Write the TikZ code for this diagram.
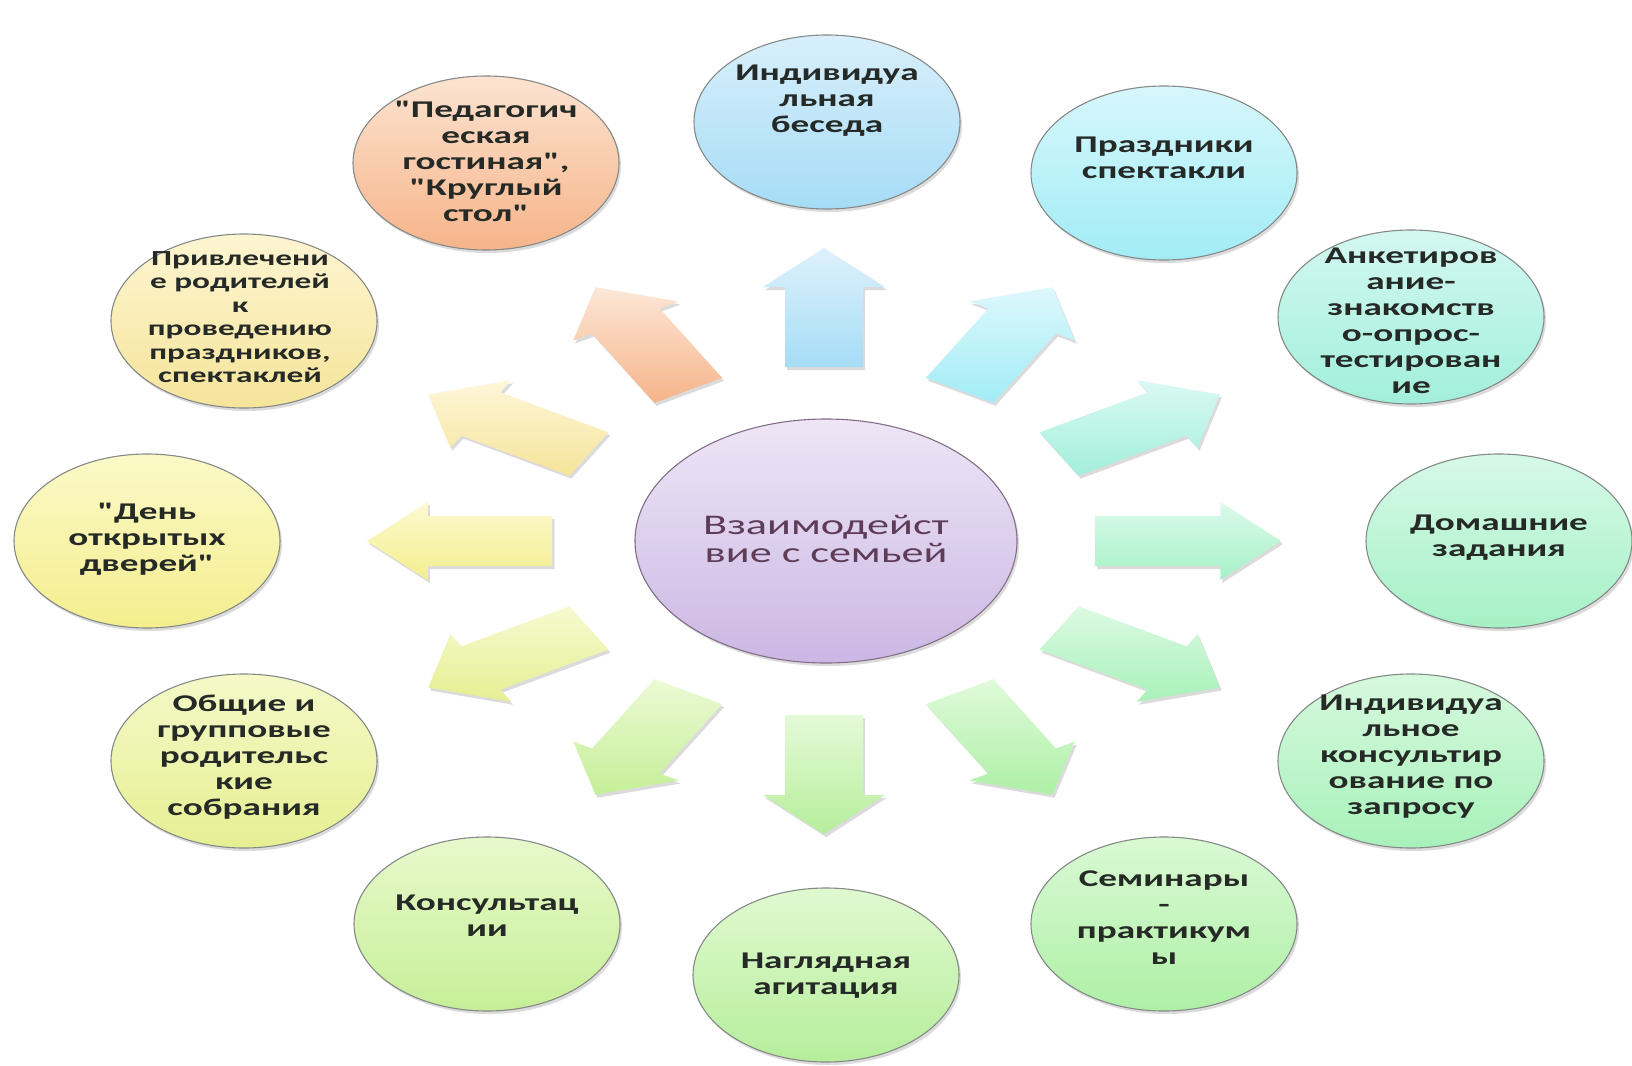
\documentclass[tikz,border=0pt]{standalone}
\usepackage{fontspec}
\setmainfont{Carlito}[FakeStretch=1.55,Ligatures=TeXOff]
\usetikzlibrary{shapes.geometric,shadows}
% bubble colours (top / bottom)
\definecolor{aT}{HTML}{FCE3D0}\definecolor{aB}{HTML}{F6B48A}
\definecolor{bT}{HTML}{D8EFFB}\definecolor{bB}{HTML}{A6DCF6}
\definecolor{cT}{HTML}{D6F7FB}\definecolor{cB}{HTML}{A2ECF6}
\definecolor{dT}{HTML}{D4F8F1}\definecolor{dB}{HTML}{A2EFDB}
\definecolor{eT}{HTML}{D6F9E8}\definecolor{eB}{HTML}{A6F1C6}
\definecolor{fT}{HTML}{D6F9DE}\definecolor{fB}{HTML}{A8F1BA}
\definecolor{gT}{HTML}{DAF9D4}\definecolor{gB}{HTML}{AEF0A6}
\definecolor{hT}{HTML}{E0F9D0}\definecolor{hB}{HTML}{B6EE9C}
\definecolor{iT}{HTML}{E8F9CC}\definecolor{iB}{HTML}{C6EF98}
\definecolor{jT}{HTML}{F4F9C8}\definecolor{jB}{HTML}{E6EF92}
\definecolor{kT}{HTML}{FBF9C8}\definecolor{kB}{HTML}{F4EE8E}
\definecolor{lT}{HTML}{FDF5D2}\definecolor{lB}{HTML}{F6E49A}
\definecolor{mT}{HTML}{EEE6F6}\definecolor{mB}{HTML}{CBB7E4}
\definecolor{txtc}{HTML}{262A26}
\definecolor{hubtxt}{HTML}{5E3C58}
\definecolor{rim}{HTML}{858A88}
\tikzset{
  bub/.style={ellipse, minimum width=266pt, minimum height=174pt, inner sep=0pt,
    draw=rim, line width=1.1pt,
    drop shadow={opacity=0.28, shadow xshift=2pt, shadow yshift=-3pt}},
  hub/.style={bub, minimum width=382pt, minimum height=244pt, draw=rim!80!violet},
  txt/.style={align=center, inner sep=0pt, text=txtc,
    font=\bfseries\fontsize{24}{26}\selectfont},
  smalltxt/.style={txt, font=\bfseries\fontsize{21.5}{23.5}\selectfont},
  hubtext/.style={align=center, inner sep=0pt, text=hubtxt,
    font=\fontsize{28.5}{28}\selectfont},
  blockarrow/.style={drop shadow={opacity=0.28, shadow xshift=2pt, shadow yshift=-3pt}},
}
% radial block arrow: #1 angle (math, ccw), #2 top colour, #3 bottom colour
\newcommand\radarrow[3]{%
  \pgfmathsetmacro\ca{cos(#1)}%
  \pgfmathsetmacro\sa{sin(#1)}%
  \coordinate (q1) at ({824+1.56*(174*\ca-25*\sa)},{541-(174*\sa+25*\ca)});
  \coordinate (q2) at ({824+1.56*(254*\ca-25*\sa)},{541-(254*\sa+25*\ca)});
  \coordinate (q3) at ({824+1.56*(254*\ca-39*\sa)},{541-(254*\sa+39*\ca)});
  \coordinate (q4) at ({824+1.56*(293*\ca)},{541-(293*\sa)});
  \coordinate (q5) at ({824+1.56*(254*\ca+39*\sa)},{541-(254*\sa-39*\ca)});
  \coordinate (q6) at ({824+1.56*(254*\ca+25*\sa)},{541-(254*\sa-25*\ca)});
  \coordinate (q7) at ({824+1.56*(174*\ca+25*\sa)},{541-(174*\sa-25*\ca)});
  \path[blockarrow, top color=#2, bottom color=#3]
    (q1) -- (q2) -- (q3) -- (q4) -- (q5) -- (q6) -- (q7) -- cycle;
}
\begin{document}
\begin{tikzpicture}[x=1pt,y=-1pt]
\fill[white] (0,0) rectangle (1632,1065);
\useasboundingbox (0,0) rectangle (1632,1065);

% arrows
\radarrow{90}{bT!85!white}{bB}
\radarrow{60}{cT!85!white}{cB}
\radarrow{30}{dT!85!white}{dB}
\radarrow{0}{eT!85!white}{eB}
\radarrow{-30}{fT!85!white}{fB}
\radarrow{-60}{gT!85!white}{gB}
\radarrow{-90}{hT!85!white}{hB}
\radarrow{-120}{iT!85!white}{iB}
\radarrow{-150}{jT!85!white}{jB}
\radarrow{180}{kT!85!white}{kB}
\radarrow{150}{lT!85!white}{lB}
\radarrow{120}{aT!85!white}{aB}

% hub
\node[hub, top color=mT, bottom color=mB] (m) at (826,541) {};
\node[hubtext] (mt) at (826,539) {Взаимодейст\\вие с семьей};

% bubbles
\node[bub, top color=aT, bottom color=aB] (a) at (486,163) {};
\node[txt] (at) at (486,161) {"Педагогич\\еская\\гостиная",\\"Круглый\\стол"};

\node[bub, top color=bT, bottom color=bB] (b) at (827,122) {};
\node[txt] (bt) at (827,101) {Индивидуа\\льная\\беседа};

\node[bub, top color=cT, bottom color=cB] (c) at (1164,173) {};
\node[txt] (ct) at (1164,158) {Праздники\\спектакли};

\node[bub, top color=dT, bottom color=dB] (d) at (1411,317) {};
\node[txt] (dt) at (1411,321) {Анкетиров\\ание-\\знакомств\\о-опрос-\\тестирован\\ие};

\node[bub, top color=eT, bottom color=eB] (e) at (1499,541) {};
\node[txt] (et) at (1499,538) {Домашние\\задания};

\node[bub, top color=fT, bottom color=fB] (f) at (1411,761) {};
\node[txt] (ft) at (1411,757) {Индивидуа\\льное\\консультир\\ование по\\запросу};

\node[bub, top color=gT, bottom color=gB] (g) at (1164,924) {};
\node[txt] (gt) at (1164,918) {Семинары\\-\\практикум\\ы};

\node[bub, top color=hT, bottom color=hB] (h) at (826,975) {};
\node[txt] (ht) at (826,976) {Наглядная\\агитация};

\node[bub, top color=iT, bottom color=iB] (i) at (487,924) {};
\node[txt] (it) at (487,916) {Консультац\\ии};

\node[bub, top color=jT, bottom color=jB] (j) at (244,761) {};
\node[txt] (jt) at (244,757) {Общие и\\групповые\\родительс\\кие\\собрания};

\node[bub, top color=kT, bottom color=kB] (k) at (147,541) {};
\node[txt] (kt) at (147,539) {"День\\открытых\\дверей"};

\node[bub, top color=lT, bottom color=lB] (l) at (244,321) {};
\node[smalltxt] (lt) at (240,317) {Привлечени\\е родителей\\к\\проведению\\праздников,\\спектаклей};
\end{tikzpicture}
\end{document}
